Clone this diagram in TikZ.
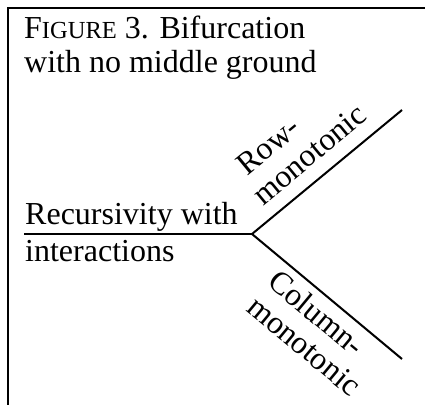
\documentclass[tikz,border=0pt]{standalone}
\usepackage{fontspec}
\setmainfont{Liberation Serif}
\begin{document}
\begin{tikzpicture}[x=1pt,y=1pt,
  frameline/.style={line width=2.2pt},
  branch/.style={line width=2pt},
  lbl/.style={inner sep=0pt, font=\fontsize{32}{34}\selectfont},
  slab/.style={inner sep=0pt, align=left, font=\fontsize{32}{33}\selectfont}]
\useasboundingbox (0,0) rectangle (425,405);
\draw[frameline] (425,397) -- (7.7,397) -- (7.7,0);
% title
\node[lbl, anchor=base west, align=left] (title) at (24,332)
  {F{\fontsize{24.5}{34}\selectfont IGURE} 3. Bifurcation\\with no middle ground};
% junction and ends
\coordinate (H) at (24,171);
\coordinate (J) at (252,171);
\coordinate (U) at (402,295);
\coordinate (L) at (402,46);
\draw[branch] (H) -- (J);
\draw[branch] (J) -- node[slab, sloped, pos=0.13, anchor=base west, yshift=14.5pt] (row) {\hspace*{7pt}Row-\\monotonic} (U);
\draw[branch] (J) -- node[slab, sloped, pos=0.218, anchor=base west, yshift=-63pt] (col) {Column-\\monotonic} (L);
\node[lbl, anchor=base west] (rec) at (25,181) {Recursivity with};
\node[lbl, anchor=base west] (int) at (25,144) {interactions};
\end{tikzpicture}
\end{document}
